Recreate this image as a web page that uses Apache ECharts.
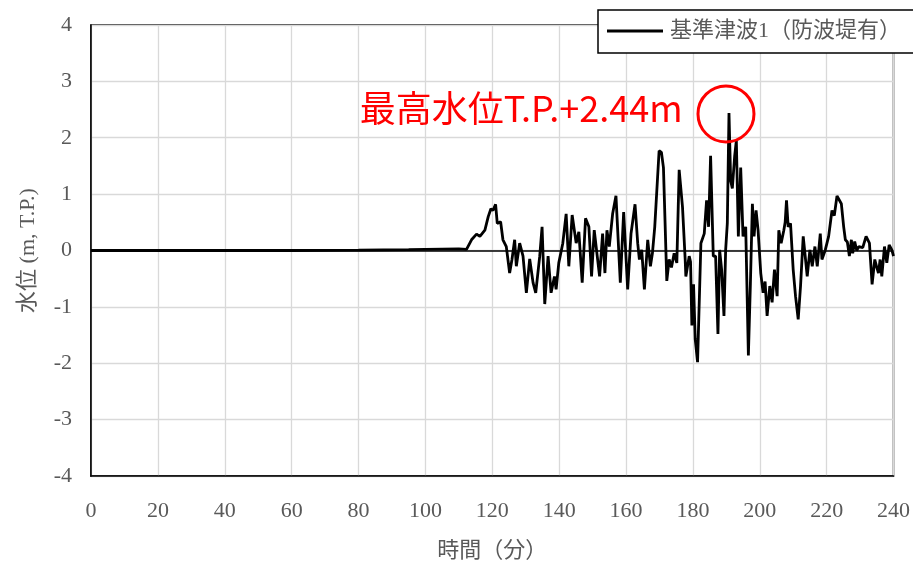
<!DOCTYPE html>
<html>
<head>
<meta charset="utf-8">
<script src="https://cdn.jsdelivr.net/npm/echarts@6/dist/echarts.min.js"></script>
<style>
  html, body { margin: 0; padding: 0; background: #fff; }
  #chart { width: 913px; height: 567px; }
</style>
</head>
<body>
<div id="chart"></div>
<script>
// Elapsed time (minutes) and water level (m, T.P.)
const timeMin = [
  0, 60, 80, 95, 105, 110, 112.3, 113.8, 115.3, 116.3, 117.8, 118.8, 119.6, 120.2, 121.0, 121.5,
  122.5, 123.2, 124.2, 125.2, 125.9, 126.7, 127.2, 128.2, 129.2, 130.2, 131.2, 132.2, 133.0, 134.2,
  134.9, 135.7, 136.7, 137.6, 138.6, 139.1, 139.9, 141.1, 142.1, 142.9, 143.9, 145.1, 145.9, 146.9,
  147.9, 148.9, 149.7, 150.5, 152.1, 153.0, 153.7, 154.3, 155.0, 156.0, 157.0, 158.3, 159.3, 160.5,
  161.5, 162.7, 163.5, 164.0, 164.7, 165.5, 166.5, 167.3, 167.9, 168.6, 169.9, 170.6, 171.2, 172.2,
  172.9, 173.6, 174.4, 175.2, 175.9, 176.9, 177.7, 177.9, 178.9, 179.3, 179.7, 180.2, 180.7, 181.4,
  182.4, 183.4, 184.1, 184.7, 185.3, 186.1, 186.8, 187.5, 188.0, 188.6, 189.3, 189.8, 190.3, 190.8,
  191.3, 191.8, 192.5, 193.0, 193.6, 194.3, 195.0, 195.8, 196.6, 197.2, 197.8, 198.3, 198.9, 199.5,
  200.3, 201.0, 201.6, 202.2, 203.0, 203.7, 204.4, 205.2, 205.7, 206.4, 207.2, 207.6, 208.0, 208.5,
  209.2, 210.0, 210.7, 211.5, 212.2, 213.0, 213.5, 214.2, 215.0, 215.7, 216.5, 217.2, 218.1, 218.6,
  219.6, 220.6, 221.6, 222.3, 223.1, 223.6, 224.4, 225.1, 225.6, 226.2, 226.8, 227.4, 227.8, 228.4,
  229.0, 229.6, 230.8, 231.8, 232.8, 233.6, 234.4, 235.0, 235.5, 236.0, 236.5, 237.3, 238.0, 238.7,
  239.5, 240
];
const waterLevel = [
  0, 0, 0.005, 0.015, 0.025, 0.03, 0.02, 0.19, 0.29, 0.25, 0.36, 0.6, 0.74, 0.71, 0.82, 0.48,
  0.51, 0.19, 0.07, -0.4, -0.16, 0.19, -0.28, 0.13, -0.1, -0.75, -0.15, -0.57, -0.75, -0.1,
  0.42, -0.95, -0.1, -0.75, -0.46, -0.69, -0.22, 0.13, 0.65, -0.28, 0.63, 0.13, 0.33, -0.57,
  0.57, 0.42, -0.46, 0.36, -0.46, 0.3, -0.4, 0.36, 0.07, 0.65, 0.97, -0.57, 0.68, -0.69,
  0.3, 0.82, 0.13, -0.16, 0.01, -0.69, 0.19, -0.28, -0.05, 0.42, 1.77, 1.74, 1.47, -0.54,
  -0.16, -0.3, -0.05, -0.22, 1.43, 0.77, -0.16, -0.46, -0.1, -0.2, -1.33, -0.6, -1.57, -1.98,
  0.13, 0.3, 0.89, 0.42, 1.68, -0.1, -0.1, -1.48, 0.01, -0.34, -1.16, 0.01, 0.48, 2.44,
  1.24, 1.1, 1.68, 1.95, 0.25, 1.47, 0.25, 0.42, -1.86, -0.6, 0.83, 0.25, 0.71, 0.36,
  -0.4, -0.75, -0.55, -1.16, -0.63, -0.92, -0.34, -0.81, 0.36, 0.13, 0.36, 0.5, 0.89, 0.42,
  0.48, -0.34, -0.81, -1.22, -0.63, 0.25, 0.22, -0.46, 0.01, -0.28, 0.07, -0.28, 0.3, -0.16,
  0.01, 0.25, 0.71, 0.62, 0.97, 1.0, 0.83, 0.42, 0.19, 0.15, -0.1, 0.19, -0.05, 0.16,
  0.0, 0.07, 0.05, 0.25, 0.13, -0.6, -0.16, -0.3, -0.4, -0.16, -0.46, 0.07, -0.22, 0.1,
  0.01, -0.1
];

const seriesName = '基準津波1（防波堤有）';
const xTicks = { min: 0, max: 240, interval: 20 };
const yTicks = { min: -4, max: 4, interval: 1 };
const peakLabel = '最高水位T.P.+2.44m';

// locate the maximum for the annotation
let peakIdx = 0;
waterLevel.forEach((v, i) => { if (v > waterLevel[peakIdx]) peakIdx = i; });

const serif = '"Liberation Serif", "Times New Roman", "Noto Sans CJK JP", serif';
const gray = '#595959';

const chart = echarts.init(document.getElementById('chart'), null, { renderer: 'canvas' });
chart.setOption({
  animation: false,
  backgroundColor: '#fff',
  grid: {
    left: 91, right: 17, top: 25, bottom: 86,
    show: true, borderColor: '#000', borderWidth: 1.5, backgroundColor: 'transparent'
  },
  legend: {
    data: [{ name: seriesName, icon: 'path://M0,0H100V5H0Z' }],
    left: 598, top: 10,
    padding: [10, 30, 11, 9],
    backgroundColor: '#fff',
    borderColor: '#000', borderWidth: 1.5,
    itemWidth: 56, itemHeight: 3, itemGap: 6,
    textStyle: { fontFamily: serif, fontSize: 22, color: gray, padding: [0, 0, 0, 2] }
  },
  xAxis: {
    type: 'value',
    min: xTicks.min, max: xTicks.max, interval: xTicks.interval,
    name: '時間（分）', nameLocation: 'middle', nameGap: 64,
    nameTextStyle: { fontFamily: serif, fontSize: 22, color: gray },
    axisLine: { onZero: false, lineStyle: { color: '#000', width: 1.5 } },
    axisTick: { show: false },
    axisLabel: { fontFamily: serif, fontSize: 22, color: gray, margin: 24 },
    splitLine: { show: true, lineStyle: { color: '#d9d9d9', width: 1.3 } }
  },
  yAxis: {
    type: 'value',
    min: yTicks.min, max: yTicks.max, interval: yTicks.interval,
    name: '水位 (m, T.P.)', nameLocation: 'middle', nameGap: 52, nameRotate: 90,
    nameTextStyle: { fontFamily: serif, fontSize: 22, color: gray },
    axisLine: { show: true, lineStyle: { color: '#000', width: 1.5 } },
    axisTick: { show: false },
    axisLabel: { fontFamily: serif, fontSize: 22, color: gray, margin: 19 },
    splitLine: { show: true, lineStyle: { color: '#d9d9d9', width: 1.3 } }
  },
  series: [{
    name: seriesName,
    type: 'line',
    data: timeMin.map((t, i) => [t, waterLevel[i]]),
    symbol: 'none',
    lineStyle: { color: '#000', width: 2.8 },
    itemStyle: { color: '#000' },
    z: 3,
    markLine: {
      silent: true, symbol: 'none',
      label: { show: false },
      lineStyle: { color: '#000', width: 1.5, type: 'solid' },
      data: [{ yAxis: 0 }]
    },
    markPoint: {
      silent: true,
      symbol: 'circle',
      symbolSize: 56,
      symbolOffset: [-3, 1],
      itemStyle: { color: 'rgba(0,0,0,0)', borderColor: '#ff0000', borderWidth: 3 },
      label: {
        show: true, position: 'left', distance: 14, offset: [0, -6],
        formatter: peakLabel,
        fontFamily: '"Noto Sans CJK JP", "Noto Sans", sans-serif',
        fontSize: 36, color: '#ff0000'
      },
      data: [{ coord: [timeMin[peakIdx], waterLevel[peakIdx]] }]
    }
  }]
});
</script>
</body>
</html>
